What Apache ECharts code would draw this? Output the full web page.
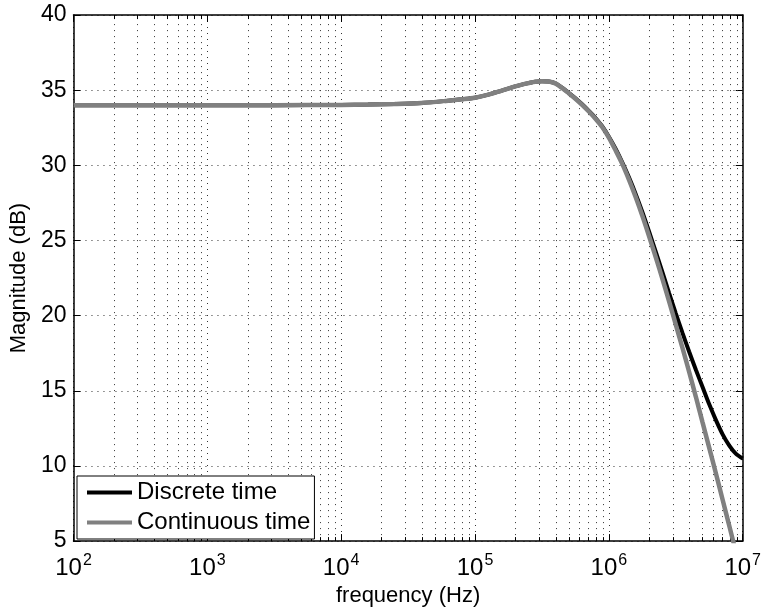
<!DOCTYPE html>
<html>
<head>
<meta charset="utf-8">
<script src="https://cdn.jsdelivr.net/npm/echarts@6/dist/echarts.min.js"></script>
<style>
html,body{margin:0;padding:0;background:#fff;}
#chart{width:764px;height:612px;}
</style>
</head>
<body>
<div id="chart"></div>
<script>
// log10 of frequency (Hz)
const logFreq = [2.0, 2.5, 3.0, 3.5, 4.0, 4.2, 4.4, 4.6, 4.8, 4.9, 5.0, 5.1, 5.2, 5.3, 5.35, 5.4, 5.45, 5.5, 5.55, 5.6, 5.65, 5.7, 5.75, 5.8, 5.85, 5.9, 5.95, 6.0, 6.05, 6.1, 6.15, 6.2, 6.25, 6.3, 6.35, 6.4, 6.45, 6.5, 6.55, 6.6, 6.65, 6.7, 6.75, 6.8, 6.85, 6.9, 6.95, 7.0];
const discreteTime = [34.0, 34.0, 34.0, 34.0, 34.02, 34.04, 34.08, 34.15, 34.3, 34.39, 34.5, 34.7, 34.97, 35.25, 35.37, 35.47, 35.56, 35.6, 35.58, 35.46, 35.17, 34.82, 34.46, 34.06, 33.62, 33.15, 32.6, 31.9, 31.1, 30.2, 29.2, 28.1, 26.9, 25.6, 24.25, 22.9, 21.5, 20.15, 18.85, 17.6, 16.4, 15.25, 14.1, 13.05, 12.1, 11.35, 10.8, 10.5];
const continuousTime = [34.0, 34.0, 34.0, 34.0, 34.02, 34.04, 34.08, 34.15, 34.3, 34.39, 34.5, 34.7, 34.97, 35.25, 35.37, 35.47, 35.56, 35.6, 35.58, 35.45, 35.15, 34.8, 34.43, 34.02, 33.58, 33.1, 32.55, 31.85, 31.0, 30.1, 29.05, 27.9, 26.65, 25.3, 23.9, 22.45, 20.95, 19.4, 17.85, 16.25, 14.6, 12.9, 11.2, 9.5, 7.75, 6.0, 4.25, 2.5];
const xDecades = [2, 3, 4, 5, 6];          // decades having minor ticks
const minorFactors = [2, 3, 4, 5, 6, 7, 8, 9];
const seriesNames = ['Discrete time', 'Continuous time'];

const minorVals = [];
xDecades.forEach(d => minorFactors.forEach(k => minorVals.push([d + Math.log10(k), 5])));

const FONT = 'Liberation Sans, Arial, Helvetica, sans-serif';
const chart = echarts.init(document.getElementById('chart'), null, {renderer: 'canvas'});
const dotted = {color: '#333', width: 1, type: [1, 5]};

chart.setOption({
  backgroundColor: '#fff',
  animation: false,
  textStyle: {fontFamily: FONT, color: '#000'},
  grid: {left: 72, right: 18, top: 15, bottom: 65, containLabel: false},
  legend: {
    data: seriesNames,
    orient: 'vertical',
    left: 77, top: 476,
    padding: [3, 4, 3, 10],
    itemGap: 3,
    itemWidth: 45, itemHeight: 4,
    icon: 'rect',
    borderColor: '#000', borderWidth: 1,
    backgroundColor: '#fff',
    textStyle: {fontFamily: FONT, fontSize: 24, color: '#000', lineHeight: 27},
    z: 10
  },
  xAxis: [{
    type: 'value', min: 2, max: 7, interval: 1,
    position: 'bottom',
    axisLine: {show: true, onZero: false, lineStyle: {color: '#000', width: 1.5}},
    axisTick: {show: true, inside: true, length: 7, lineStyle: {color: '#000', width: 1}},
    splitLine: {show: true, lineStyle: dotted},
    axisLabel: {
      margin: 11,
      formatter: v => '{b|10}{s|' + v + '}',
      rich: {
        b: {fontFamily: FONT, fontSize: 24, color: '#000', verticalAlign: 'bottom'},
        s: {fontFamily: FONT, fontSize: 16, color: '#000', verticalAlign: 'bottom', padding: [0, 0, 12, 1]}
      }
    },
    name: 'frequency (Hz)', nameLocation: 'middle', nameGap: 41,
    nameTextStyle: {fontFamily: FONT, fontSize: 22, color: '#000'}
  }, {
    type: 'value', min: 2, max: 7, interval: 1,
    position: 'top',
    axisLine: {show: true, onZero: false, lineStyle: {color: '#000', width: 1.5}},
    axisTick: {show: true, inside: true, length: 7, lineStyle: {color: '#000', width: 1}},
    splitLine: {show: false},
    axisLabel: {show: false}
  }],
  yAxis: [{
    type: 'value', min: 5, max: 40, interval: 5,
    position: 'left',
    axisLine: {show: true, onZero: false, lineStyle: {color: '#000', width: 1.5}},
    axisTick: {show: true, inside: true, length: 7, lineStyle: {color: '#000', width: 1}},
    splitLine: {show: true, lineStyle: dotted},
    axisLabel: {margin: 7, fontFamily: FONT, fontSize: 23, color: '#000'},
    name: 'Magnitude (dB)', nameLocation: 'middle', nameGap: 37, nameRotate: 90,
    nameTextStyle: {fontFamily: FONT, fontSize: 22, color: '#000'}
  }, {
    type: 'value', min: 5, max: 40, interval: 5,
    position: 'right',
    axisLine: {show: true, onZero: false, lineStyle: {color: '#000', width: 1.5}},
    axisTick: {show: true, inside: true, length: 7, lineStyle: {color: '#000', width: 1}},
    splitLine: {show: false},
    axisLabel: {show: false}
  }],
  series: [{
    type: 'custom',
    name: 'minor',
    silent: true,
    clip: false,
    z: 1,
    data: minorVals,
    renderItem: function (params, api) {
      const x = api.value(0);
      const p0 = api.coord([x, 5]);
      const p1 = api.coord([x, 40]);
      const px = Math.round(p0[0]) + 0.5;
      return {
        type: 'group',
        children: [
          {type: 'line', shape: {x1: px, y1: p0[1], x2: px, y2: p1[1]}, style: {stroke: '#333', lineWidth: 1, lineDash: [1, 5]}},
          {type: 'line', shape: {x1: px, y1: p0[1], x2: px, y2: p0[1] - 4}, style: {stroke: '#000', lineWidth: 1}},
          {type: 'line', shape: {x1: px, y1: p1[1], x2: px, y2: p1[1] + 4}, style: {stroke: '#000', lineWidth: 1}}
        ]
      };
    }
  }, {
    type: 'line',
    name: seriesNames[0],
    data: logFreq.map((x, i) => [x, discreteTime[i]]),
    showSymbol: false, symbol: 'none',
    smooth: 0.3,
    color: '#000',
    lineStyle: {color: '#000', width: 4},
    z: 3
  }, {
    type: 'line',
    name: seriesNames[1],
    data: logFreq.map((x, i) => [x, continuousTime[i]]),
    showSymbol: false, symbol: 'none',
    smooth: 0.3,
    color: '#808080',
    lineStyle: {color: '#808080', width: 4.5},
    z: 4
  }]
});
</script>
</body>
</html>
